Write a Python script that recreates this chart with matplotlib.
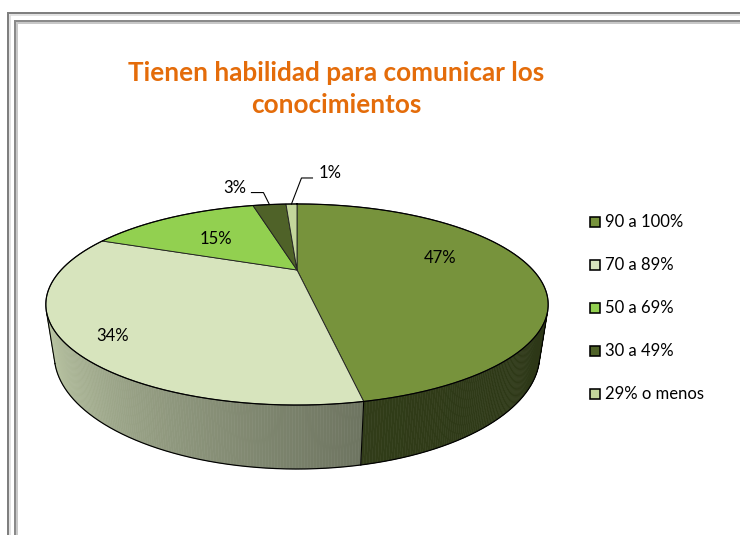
import numpy as np
import matplotlib
matplotlib.use("Agg")
import matplotlib.pyplot as plt
from matplotlib.patches import Polygon, Rectangle
from matplotlib.colors import to_rgb

# ---------------- data ----------------
title = "Tienen habilidad para comunicar los\nconocimientos"
categories = ["90 a 100%", "70 a 89%", "50 a 69%", "30 a 49%", "29% o menos"]
values = [47, 34, 15, 3, 1]
value_labels = ["47%", "34%", "15%", "3%", "1%"]

# ---------------- style ----------------
colors = ["#77933C", "#D7E4BD", "#92D050", "#4F6228", "#C3D69B"]
title_color = "#E46C0A"
FONT = ["Lato", "DejaVu Sans"]

W, HP = 740, 535
fig = plt.figure(figsize=(W / 100, HP / 100), dpi=100)
ax = fig.add_axes([0, 0, 1, 1])
ax.set_xlim(0, W)
ax.set_ylim(HP, 0)
ax.axis("off")
renderer = fig.canvas.get_renderer()

PX = 0.72  # points per pixel


def fit_size(text, width_px, weight="normal"):
    t = ax.text(0, 0, text, fontsize=10, family=FONT, fontweight=weight)
    w = t.get_window_extent(renderer).width
    t.remove()
    return 10 * width_px / w


# ---------------- frame ----------------
for (x0, y0, col, lw) in [(8, 13, "#7f7f7f", 2.0), (10, 15, "#d9d9d9", 1.5),
                          (15, 21, "#8a8a8a", 2.0), (17, 23, "#c8c8c8", 2.0)]:
    ax.plot([x0, x0, W + 5], [HP + 5, y0, y0], color=col, lw=lw * PX,
            solid_joinstyle="miter", zorder=1)

# ---------------- 3D pie geometry (perspective camera) ----------------
cx, cy = 297.0, 270.0
F = 637.0
Dc = 2.70
phi = np.arcsin(0.376)
Hd = 0.22


def proj(x, y, z):
    depth = Dc - y * np.cos(phi) - z * np.sin(phi)
    X = cx + F * x / depth
    Y = cy + F * (y * np.sin(phi) - z * np.cos(phi)) / depth
    return X, Y


def rim(theta_deg, r=1.0, z=0.0):
    t = np.radians(theta_deg)
    return proj(r * np.sin(t), -r * np.cos(t), z)


total = float(sum(values))
bounds = np.concatenate([[0], np.cumsum(values)]) / total * 360.0

vis_lo = np.degrees(np.arccos(-1.0 / (Dc * np.cos(phi))))
vis_hi = 360.0 - vis_lo

# wall shading per slice (factor at start / end of visible part)
wall_shade = {0: (0.37, 0.41), 1: (0.51, 0.88)}

for i, (t0, t1) in enumerate(zip(bounds[:-1], bounds[1:])):
    a, b = max(t0, vis_lo), min(t1, vis_hi)
    if b <= a:
        continue
    n = max(2, int((b - a) / 0.5))
    ts = np.linspace(a, b, n + 1)
    f0, f1 = wall_shade.get(i, (0.5, 0.8))
    base = np.array(to_rgb(colors[i]))
    for ta, tb in zip(ts[:-1], ts[1:]):
        fm = f0 + (f1 - f0) * ((ta + tb) / 2 - a) / (b - a)
        c = np.clip(base * fm, 0, 1)
        xa, ya = rim(ta)
        xb, yb = rim(tb)
        xa2, ya2 = rim(ta, z=-Hd)
        xb2, yb2 = rim(tb, z=-Hd)
        ax.add_patch(Polygon([(xa, ya), (xb, yb), (xb2, yb2), (xa2, ya2)],
                             closed=True, facecolor=c, edgecolor=c, lw=0.4,
                             zorder=2))

# wall outlines
tb_arc = np.linspace(vis_lo, vis_hi, 400)
bx, by = rim(tb_arc, z=-Hd)
ax.plot(bx, by, color="black", lw=1.2 * PX, zorder=3)
for t in [vis_lo, vis_hi] + [t for t in bounds if vis_lo < t < vis_hi]:
    x1, y1 = rim(t)
    x2, y2 = rim(t, z=-Hd)
    ax.plot([x1, x2], [y1, y2], color="black", lw=1.1 * PX, zorder=3)

# top faces
for i, (t0, t1) in enumerate(zip(bounds[:-1], bounds[1:])):
    ts = np.linspace(t0, t1, max(3, int((t1 - t0) * 2)))
    xs, ys = rim(ts)
    pts = [(cx, cy)] + list(zip(xs, ys))
    ax.add_patch(Polygon(pts, closed=True, facecolor=colors[i],
                         edgecolor="#222222", lw=0.9 * PX, zorder=4,
                         joinstyle="round"))
ta_all = np.linspace(0, 360, 721)
ex, ey = rim(ta_all)
ax.plot(ex, ey, color="black", lw=1.2 * PX, zorder=5)

# ---------------- labels ----------------
lab_size = fit_size("90 a 100%", 78)
label_r = [0.62, 0.83, 0.60, None, None]
label_dy = [-7, 9, 4, 0, 0]
leader = {3: (-6, -12, -18, "right"), 4: (10, -26, 21, "left")}
for i, (t0, t1) in enumerate(zip(bounds[:-1], bounds[1:])):
    mid = (t0 + t1) / 2
    if label_r[i] is not None:
        lx, ly = rim(mid, r=label_r[i])
        ax.text(lx, ly + label_dy[i], value_labels[i], fontsize=lab_size,
                family=FONT, ha="center", va="center", color="black",
                zorder=6)
    else:
        px, py = rim(mid)
        dx, dy, hx, side = leader[i]
        ex1, ey1 = px + dx, py + dy
        ex2 = ex1 + (hx - dx)
        ax.plot([px, ex1, ex2], [py, ey1, ey1], color="black",
                lw=1.1 * PX, zorder=6)
        tx = ex2 - 5 if side == "right" else ex2 + 6
        ax.text(tx, ey1 - 5, value_labels[i], fontsize=lab_size, family=FONT,
                ha=side, va="center", color="black", zorder=6)

# ---------------- title ----------------
t_size = fit_size(title.split("\n")[0], 417, weight="bold")
ax.text(336.5, 89, title, fontsize=t_size, family=FONT, fontweight="bold",
        color=title_color, ha="center", va="center", linespacing=1.42,
        zorder=6)

# ---------------- legend ----------------
leg_y0, leg_dy = 222.3, 43.0
for i, name in enumerate(categories):
    y = leg_y0 + i * leg_dy
    ax.add_patch(Rectangle((590, y - 5), 10, 10, facecolor=colors[i],
                           edgecolor="black", lw=1.6 * PX, zorder=6))
    ax.text(605, y, name, fontsize=lab_size, family=FONT, ha="left",
            va="center", color="black", zorder=6)

fig.savefig("out.png", dpi=100)
